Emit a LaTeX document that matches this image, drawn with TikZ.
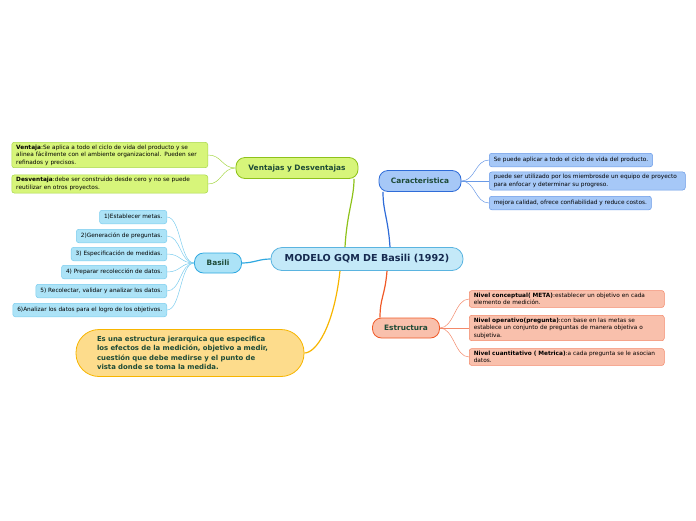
\documentclass[tikz,border=0pt]{standalone}
\usepackage{fontspec}
\setmainfont{DejaVu Sans}
\hyphenpenalty=10000
\exhyphenpenalty=10000

\definecolor{modfill}{HTML}{C4E9F8}
\definecolor{moddraw}{HTML}{5AB4E0}
\definecolor{modtext}{HTML}{15294F}
\definecolor{venfill}{HTML}{D7F57A}
\definecolor{vendraw}{HTML}{8EC21A}
\definecolor{venleaf}{HTML}{A8D84A}
\definecolor{carfill}{HTML}{A6C8F7}
\definecolor{cardraw}{HTML}{2F6CD8}
\definecolor{carleaf}{HTML}{6A9AE6}
\definecolor{basfill}{HTML}{ACE3F7}
\definecolor{basdraw}{HTML}{2FA8E0}
\definecolor{basleaf}{HTML}{7CCDEE}
\definecolor{estfill}{HTML}{F9C0AC}
\definecolor{estdraw}{HTML}{F05A28}
\definecolor{estleaf}{HTML}{F3896A}
\definecolor{yelfill}{HTML}{FDDC8C}
\definecolor{yeldraw}{HTML}{F7B500}
\definecolor{darkgreen}{HTML}{1D4A36}

\tikzset{
  branch/.style={draw, rounded corners=9pt, line width=0.8pt, text=darkgreen,
    font=\fontsize{7.4}{9}\selectfont\bfseries},
  leaf/.style={draw, rounded corners=2.5pt, line width=0.5pt, inner xsep=4.5pt,
    inner ysep=2.5pt, minimum height=13.5pt, align=left,
    font=\fontsize{5.8}{7.4}\selectfont},
  link/.style={line width=1.2pt},
  twig/.style={line width=0.5pt},
}

\begin{document}
\begin{tikzpicture}[x=1pt,y=-1pt]
\useasboundingbox (0,0) rectangle (696,520);

% main idea
\node[draw=moddraw, fill=modfill, rounded corners=11pt, line width=0.8pt,
  minimum width=192pt, minimum height=23pt, text=modtext,
  font=\fontsize{9.6}{11}\selectfont\bfseries] (mod) at (367,259)
  {MODELO GQM DE Basili (1992)};

% branches
\node[branch, draw=vendraw, fill=venfill, minimum width=122pt, minimum height=21pt]
  (ven) at (297,168) {Ventajas y Desventajas};
\node[branch, draw=cardraw, fill=carfill, minimum width=82pt, minimum height=21pt]
  (car) at (420,181) {Caracteristica};
\node[branch, draw=basdraw, fill=basfill, minimum width=47pt, minimum height=20pt]
  (bas) at (218,263) {Basili};
\node[branch, draw=estdraw, fill=estfill, minimum width=67pt, minimum height=20pt]
  (est) at (406,328) {Estructura};
\node[branch, draw=yeldraw, fill=yelfill, rounded corners=23pt, minimum width=228pt,
  minimum height=47pt, text width=186pt, align=left,
  font=\fontsize{6.9}{9.2}\selectfont\bfseries] (yel) at (190,353)
  {Es una estructura jerarquica que especifica\\ los efectos de la medición, objetivo a medir,\\ cuestión que debe medirse y el punto de\\ vista donde se toma la medida.};

\draw[link, vendraw] ([xshift=-22pt]mod.north) .. controls +(2,-35) and +(0,20) .. ([xshift=57pt]ven.south);
\draw[link, cardraw] ([xshift=23pt]mod.north) .. controls +(-2,-30) and +(0,20) .. ([xshift=-37pt]car.south);
\draw[link, basdraw] (mod.west) .. controls +(-12,0) and +(12,0) .. (bas.east);
\draw[link, estdraw] ([xshift=20pt]mod.south) .. controls +(-2,25) and +(0,-20) .. ([xshift=-26pt]est.north);
\draw[link, yeldraw] ([xshift=-27pt]mod.south) .. controls +(-6,55) and +(12,0) .. (yel.east);

% ventajas y desventajas
\node[leaf, draw=venleaf, fill=venfill, anchor=east, text width=187pt] (v1) at (208,155)
  {\textbf{Ventaja}:Se aplica a todo el ciclo de vida del producto y se\\ alinea fácilmente con el ambiente organizacional. Pueden ser\\ refinados y precisos.};
\node[leaf, draw=venleaf, fill=venfill, anchor=east, text width=187pt] (v2) at (208,184)
  {\textbf{Desventaja}:debe ser construido desde cero y no se puede\\ reutilizar en otros proyectos.};
\foreach \n in {v1,v2}
  \draw[twig, venleaf] (ven.west) .. controls +(-14,0) and +(14,0) .. (\n.east);

% basili
\node[leaf, draw=basleaf, fill=basfill, anchor=east] (b1) at (167,217) {1)Establecer metas.};
\node[leaf, draw=basleaf, fill=basfill, anchor=east] (b2) at (167,236) {2)Generación de preguntas.};
\node[leaf, draw=basleaf, fill=basfill, anchor=east] (b3) at (167,254) {3) Especificación de medidas.};
\node[leaf, draw=basleaf, fill=basfill, anchor=east] (b4) at (167,272) {4) Preparar recolección de datos.};
\node[leaf, draw=basleaf, fill=basfill, anchor=east] (b5) at (167,291) {5) Recolectar, validar y analizar los datos.};
\node[leaf, draw=basleaf, fill=basfill, anchor=east] (b6) at (167,310) {6)Analizar los datos para el logro de los objetivos.};
\foreach \n in {b1,b2,b3,b4,b5,b6}
  \draw[twig, basleaf] (bas.west) .. controls +(-14,0) and +(14,0) .. (\n.east);

% caracteristica
\node[leaf, draw=carleaf, fill=carfill, anchor=west] (c1) at (489,160)
  {Se puede aplicar a todo el ciclo de vida del producto.};
\node[leaf, draw=carleaf, fill=carfill, anchor=west, text width=187pt] (c2) at (489,181)
  {puede ser utilizado por los miembrosde un equipo de proyecto\\ para enfocar y determinar su progreso.};
\node[leaf, draw=carleaf, fill=carfill, anchor=west] (c3) at (489,203)
  {mejora calidad, ofrece confiabilidad y reduce costos.};
\foreach \n in {c1,c2,c3}
  \draw[twig, carleaf] (car.east) .. controls +(14,0) and +(-14,0) .. (\n.west);

% estructura
\node[leaf, draw=estleaf, fill=estfill, anchor=west, text width=186pt] (e1) at (469,299)
  {\textbf{Nivel conceptual( META)}:establecer un objetivo en cada\\ elemento de medición.};
\node[leaf, draw=estleaf, fill=estfill, anchor=west, text width=186pt] (e2) at (469,328)
  {\textbf{Nivel operativo(pregunta)}:con base en las metas se\\ establece un conjunto de preguntas de manera objetiva o\\ subjetiva.};
\node[leaf, draw=estleaf, fill=estfill, anchor=west, text width=186pt] (e3) at (469,357)
  {\textbf{Nivel cuantitativo ( Metrica)}:a cada pregunta se le asocian\\ datos.};
\foreach \n in {e1,e2,e3}
  \draw[twig, estleaf] (est.east) .. controls +(14,0) and +(-14,0) .. (\n.west);
\end{tikzpicture}
\end{document}
